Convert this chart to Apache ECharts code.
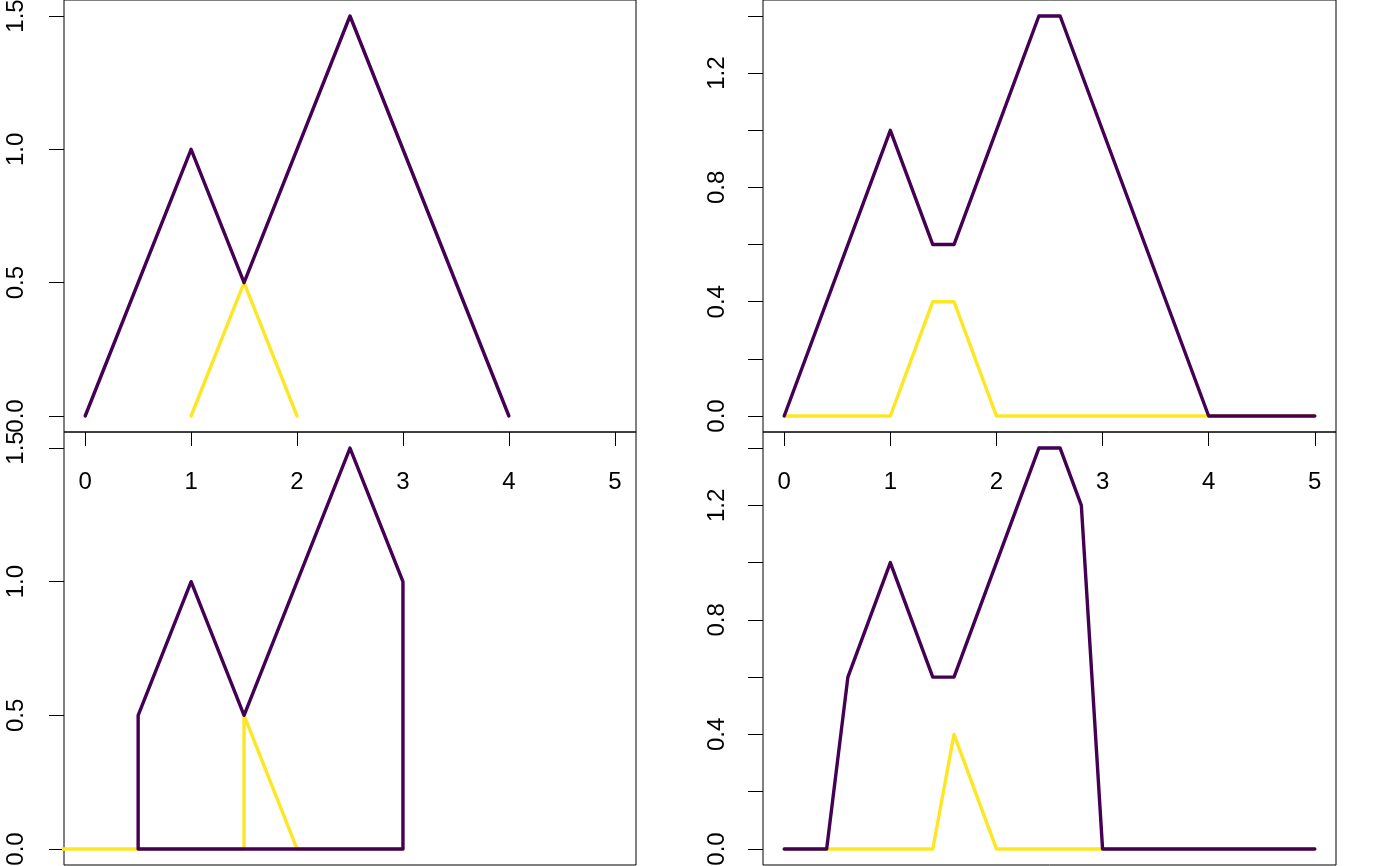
<!DOCTYPE html>
<html>
<head>
<meta charset="utf-8">
<script src="https://cdn.jsdelivr.net/npm/echarts@6/dist/echarts.min.js"></script>
<style>
html,body{margin:0;padding:0;background:#fff;}
#c{width:1400px;height:866px;}
</style>
</head>
<body>
<div id="c"></div>
<script>
// ---- data ----
const xTicks = [0, 1, 2, 3, 4, 5];
const yTicksLeft = [0, 0.5, 1.0, 1.5];
const yTicksRight = [0, 0.2, 0.4, 0.6, 0.8, 1.0, 1.2, 1.4];
const yLabelsRight = [0, 0.4, 0.8, 1.2];

// panel 1 (top-left)
const p1PurpleX = [0, 1, 1.5, 2.5, 4];
const p1PurpleY = [0, 1, 0.5, 1.5, 0];
const p1YellowX = [1, 1.5, 2];
const p1YellowY = [0, 0.5, 0];

// panel 2 (top-right)
const p2PurpleX = [0, 1, 1.4, 1.6, 2.4, 2.6, 4, 5];
const p2PurpleY = [0, 1, 0.6, 0.6, 1.4, 1.4, 0, 0];
const p2YellowX = [0, 1, 1.4, 1.6, 2, 4, 5];
const p2YellowY = [0, 0, 0.4, 0.4, 0, 0, 0];

// panel 3 (bottom-left)
const p3PurpleX = [0.5, 0.5, 1, 1.5, 2.5, 3, 3, 0.5];
const p3PurpleY = [0, 0.5, 1, 0.5, 1.5, 1, 0, 0];
const p3YellowX = [-0.5, 1.5, 1.5, 2, 3];
const p3YellowY = [0, 0, 0.5, 0, 0];

// panel 4 (bottom-right)
const p4PurpleX = [0, 0.4, 0.6, 1, 1.4, 1.6, 2.4, 2.6, 2.8, 3, 5];
const p4PurpleY = [0, 0, 0.6, 1, 0.6, 0.6, 1.4, 1.4, 1.2, 0, 0];
const p4YellowX = [0, 1.4, 1.6, 2, 5];
const p4YellowY = [0, 0, 0.4, 0, 0];

const PURPLE = '#440154';
const YELLOW = '#FDE725';
const FONT = "'Liberation Sans', Arial, sans-serif";

function pairs(xs, ys) { return xs.map((x, i) => [x, ys[i]]); }

const grids = [
  {left: 64, top: 0, width: 572, height: 432},
  {left: 763, top: 0, width: 573, height: 432},
  {left: 64, top: 432, width: 572, height: 433},
  {left: 763, top: 432, width: 573, height: 433}
].map(g => Object.assign(g, {show: true, borderColor: '#000', borderWidth: 1, backgroundColor: 'transparent',
  containLabel: false, outerBoundsMode: 'none'}));

function xAxis(i, showLabels) {
  return {
    type: 'value', gridIndex: i, min: -0.2, max: 5.2, position: 'bottom',
    axisLine: {show: false, onZero: false},
    splitLine: {show: false},
    axisTick: {show: showLabels, inside: false, length: 14, customValues: xTicks, lineStyle: {color: '#000', width: 1}},
    axisLabel: {show: showLabels, customValues: xTicks, margin: 38, fontSize: 24, color: '#000', fontFamily: FONT,
      formatter: v => String(Math.round(v))}
  };
}
function yAxis(i, left) {
  const rng = left ? 1.5 : 1.4;
  return {
    type: 'value', gridIndex: i, min: -0.04 * rng, max: rng * 1.04, position: 'left',
    axisLine: {show: false, onZero: false},
    splitLine: {show: false},
    axisTick: {show: true, inside: false, length: 15, customValues: left ? yTicksLeft : yTicksRight, lineStyle: {color: '#000', width: 1}},
    axisLabel: {show: true, customValues: left ? yTicksLeft : yLabelsRight, rotate: 90, margin: left ? 48 : 46,
      align: 'center', verticalAlign: 'middle', hideOverlap: false,
      fontSize: 24, color: '#000', fontFamily: FONT, formatter: v => v.toFixed(1)}
  };
}

function line(i, xs, ys, color) {
  return {
    type: 'line', xAxisIndex: i, yAxisIndex: i, data: pairs(xs, ys),
    showSymbol: false, symbol: 'none', clip: true, animation: false,
    lineStyle: {color: color, width: 3.4, cap: 'round', join: 'round'}
  };
}

const option = {
  backgroundColor: '#fff',
  animation: false,
  grid: grids,
  xAxis: [xAxis(0, true), xAxis(1, true), xAxis(2, false), xAxis(3, false)],
  yAxis: [yAxis(0, true), yAxis(1, false), yAxis(2, true), yAxis(3, false)],
  series: [
    line(0, p1YellowX, p1YellowY, YELLOW),
    line(0, p1PurpleX, p1PurpleY, PURPLE),
    line(1, p2YellowX, p2YellowY, YELLOW),
    line(1, p2PurpleX, p2PurpleY, PURPLE),
    line(2, p3YellowX, p3YellowY, YELLOW),
    line(2, p3PurpleX, p3PurpleY, PURPLE),
    line(3, p4YellowX, p4YellowY, YELLOW),
    line(3, p4PurpleX, p4PurpleY, PURPLE)
  ]
};

const chart = echarts.init(document.getElementById('c'), null, {renderer: 'canvas'});
chart.setOption(option);
</script>
</body>
</html>
